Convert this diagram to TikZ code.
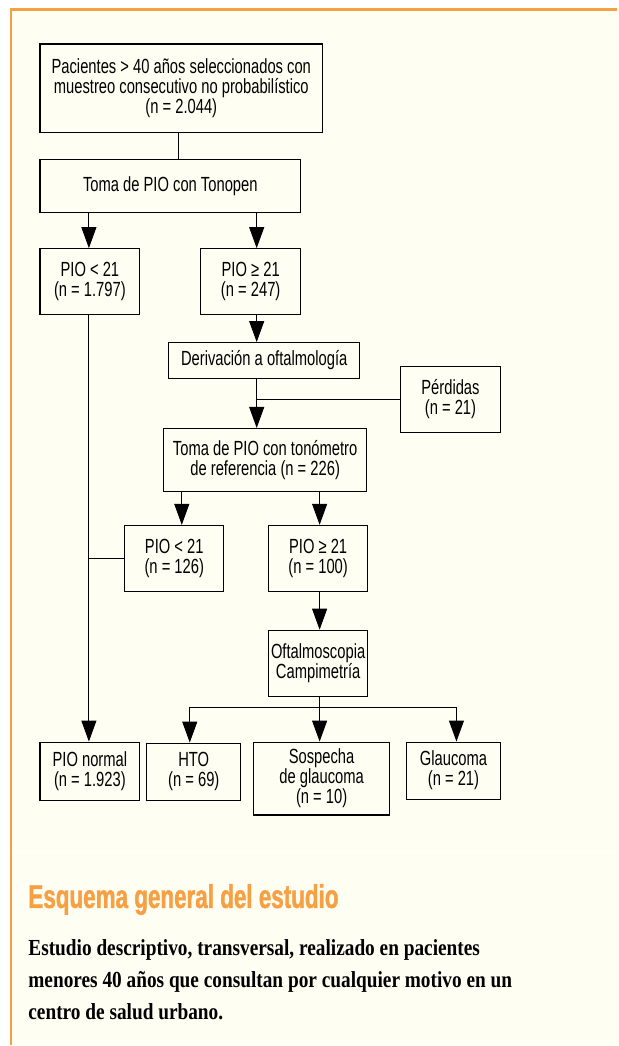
\documentclass[tikz,border=0pt]{standalone}
\usepackage{fontspec}
\usetikzlibrary{arrows.meta,calc}
\newfontfamily\boxfont{Liberation Sans}[FakeStretch=0.72]
\newfontfamily\titlefont{Liberation Sans}[FakeStretch=0.68, BoldFeatures={FakeBold=1.2}]
\newfontfamily\bodyfont{Liberation Serif}[FakeStretch=0.84]
\definecolor{crema}{HTML}{FFFEF2}
\definecolor{naranja}{HTML}{F7A043}
\begin{document}
\begin{tikzpicture}[x=1pt, y=-1pt,
  caja/.style={draw, line width=1.1pt, align=center, inner sep=0pt,
    font=\boxfont\fontsize{20.5}{20}\selectfont},
  >={Triangle[width=15pt,length=21pt]}, line width=0.9pt]
% fondo y marco
\fill[white] (0,0) rectangle (618,1046);
\fill[crema] (11,9) rectangle (618,1046);
\draw[naranja, line width=2.5pt] (11,1046) -- (11,9.5) -- (618,9.5);
\draw[white, line width=1pt] (12,853) -- (618,853);
\useasboundingbox (0,0) rectangle (618,1046);
% columnas de las flechas
\coordinate (colA) at (89,0);
\coordinate (colB) at (257,0);
\coordinate (colC) at (182,0);
\coordinate (colD) at (320,0);
\coordinate (colE) at (190,0);
\coordinate (colF) at (457,0);
% cajas
\node[caja, minimum width=283, minimum height=89] (pacientes) at (181.5,88.5)
  {Pacientes > 40 años seleccionados con\\muestreo consecutivo no probabilístico\\(n = 2.044)};
\node[caja, minimum width=261, minimum height=53] (tonopen) at (170.5,186.5)
  {Toma de PIO con Tonopen};
\node[caja, minimum width=100, minimum height=66] (menorA) at (90,282)
  {PIO < 21\\(n = 1.797)};
\node[caja, minimum width=100, minimum height=66] (mayorA) at (251,282)
  {PIO ≥ 21\\(n = 247)};
\node[caja, minimum width=191, minimum height=36] (derivacion) at (264.5,361)
  {Derivación a oftalmología};
\node[caja, minimum width=100, minimum height=66] (perdidas) at (451,400)
  {Pérdidas\\(n = 21)};
\node[caja, minimum width=203, minimum height=63] (tonometro) at (265.5,460.5)
  {Toma de PIO con tonómetro\\de referencia (n = 226)};
\node[caja, minimum width=99, minimum height=66] (menorB) at (174.5,559)
  {PIO < 21\\(n = 126)};
\node[caja, minimum width=99, minimum height=66] (mayorB) at (318.5,559)
  {PIO ≥ 21\\(n = 100)};
\node[caja, minimum width=99, minimum height=66] (oftalmo) at (318.5,664)
  {Oftalmoscopia\\Campimetría};
\node[caja, minimum width=100, minimum height=58] (normal) at (90,772)
  {PIO normal\\(n = 1.923)};
\node[caja, minimum width=94, minimum height=57] (hto) at (194,772.5)
  {HTO\\(n = 69)};
\node[caja, minimum width=136, minimum height=73] (sospecha) at (322,779.5)
  {Sospecha\\de glaucoma\\(n = 10)};
\node[caja, minimum width=94, minimum height=57] (glaucoma) at (454,771.5)
  {Glaucoma\\(n = 21)};
% conectores
\draw (pacientes.south -| 179,0) -- (tonopen.north -| 179,0);
\draw[->] (tonopen.south -| colA) -- (menorA.north -| colA);
\draw[->] (tonopen.south -| colB) -- (mayorA.north -| colB);
\draw[->] (mayorA.south -| colB) -- (derivacion.north -| colB);
\draw[->] (derivacion.south -| colB) -- (tonometro.north -| colB);
\draw (perdidas.west) -- (perdidas.west -| colB);
\draw[->] (tonometro.south -| colC) -- (menorB.north -| colC);
\draw[->] (tonometro.south -| colD) -- (mayorB.north -| colD);
\draw[->] (mayorB.south -| colD) -- (oftalmo.north -| colD);
\draw[->] (menorA.south -| colA) -- (normal.north -| colA);
\draw (menorB.west) -- (menorB.west -| colA);
\coordinate (rama) at (320,708);
\draw (oftalmo.south -| colD) -- (rama);
\draw[->] (rama) -- (sospecha.north -| colD);
\draw[->] (rama) -| (hto.north -| colE);
\draw[->] (rama) -| (glaucoma.north -| colF);
% pie
\node[anchor=base west, inner sep=0pt, text=naranja,
  font=\titlefont\bfseries\fontsize{33}{34}\selectfont] (titulo) at (28,909)
  {Esquema general del estudio};
\node[anchor=base west, inner sep=0pt, align=left,
  font=\bodyfont\bfseries\fontsize{23}{32}\selectfont] (texto) at (28,1021)
  {Estudio descriptivo, transversal, realizado en pacientes\\
   menores 40 años que consultan por cualquier motivo en un\\
   centro de salud urbano.};
\end{tikzpicture}
\end{document}
